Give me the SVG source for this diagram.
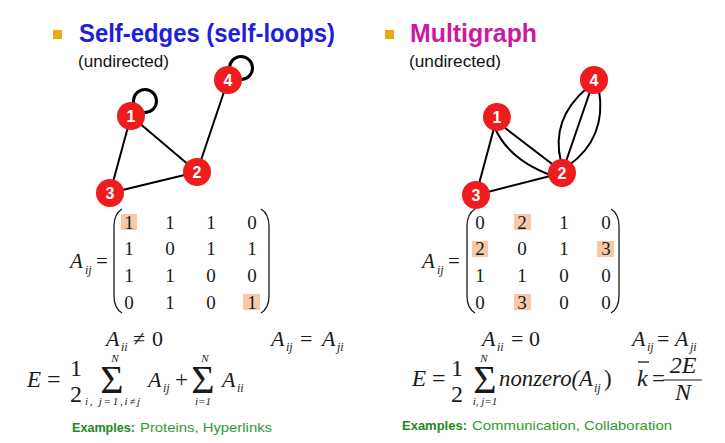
<svg xmlns="http://www.w3.org/2000/svg" width="725" height="443" viewBox="0 0 725 443">
<style>
.title{font-family:"Liberation Sans",Arial,sans-serif;font-weight:bold;font-size:25px}
.sub{font-family:"Liberation Sans",Arial,sans-serif;font-size:16px;fill:#111}
.node circle{fill:#EE1C1C}
.node text{font-family:"Liberation Sans",Arial,sans-serif;font-weight:bold;font-size:16px;fill:#fff;text-anchor:middle}
.edge{fill:none;stroke:#000;stroke-width:2}
.loop{fill:none;stroke:#000;stroke-width:3}
.m{font-family:"Liberation Serif","Times New Roman",serif;font-size:19px;fill:#1a1a1a;text-anchor:middle}
.mi{font-family:"Liberation Serif","Times New Roman",serif;font-style:italic;fill:#1a1a1a}
.mr{font-family:"Liberation Serif","Times New Roman",serif;fill:#1a1a1a}
.paren{fill:none;stroke:#1a1a1a;stroke-width:1.3}
.hl{fill:#F8C9A8}
.exb{font-family:"Liberation Sans",Arial,sans-serif;font-weight:bold;font-size:13px;fill:#1D8A1D}
.ex{font-family:"Liberation Sans",Arial,sans-serif;font-size:13px;fill:#2E9B2E}
.bullet{fill:#EDA81A}
</style>

<!-- Titles -->
<rect class="bullet" x="53" y="30" width="9" height="9"/>
<text class="title" x="79" y="42" fill="#1E1EDC" textLength="256" lengthAdjust="spacingAndGlyphs">Self-edges (self-loops)</text>
<text class="sub" x="78" y="67" textLength="91" lengthAdjust="spacingAndGlyphs">(undirected)</text>

<rect class="bullet" x="385" y="30" width="9" height="9"/>
<text class="title" x="410" y="42" fill="#CC1A9E" textLength="127" lengthAdjust="spacingAndGlyphs">Multigraph</text>
<text class="sub" x="409" y="67" textLength="92" lengthAdjust="spacingAndGlyphs">(undirected)</text>

<!-- Connectors -->
<g id="connectors">
  <line class="edge" x1="131" y1="116" x2="197" y2="172"/>
  <line class="edge" x1="131" y1="116" x2="110" y2="193"/>
  <line class="edge" x1="110" y1="193" x2="197" y2="172"/>
  <line class="edge" x1="197" y1="172" x2="228" y2="80"/>
  <circle class="loop" cx="145" cy="101" r="11.5"/>
  <circle class="loop" cx="241" cy="68" r="11.5"/>

  <line class="edge" x1="497" y1="117" x2="476" y2="195"/>
  <line class="edge" x1="476" y1="195" x2="562" y2="173"/>
  <line class="edge" x1="500" y1="124" x2="556" y2="167"/>
  <path class="edge" d="M494 126 Q508 160 553 176"/>
  <line class="edge" x1="562" y1="173" x2="594" y2="80"/>
  <path class="edge" d="M561 162 C553 130 566 106 587 88"/>
  <path class="edge" d="M568 166 C596 146 604 120 599 90"/>
</g>

<!-- Left nodes -->
<g id="L1" class="node"><circle cx="131" cy="116" r="14"/><text x="131" y="122">1</text></g>
<g id="L2" class="node"><circle cx="197" cy="172" r="14"/><text x="197" y="178">2</text></g>
<g id="L3" class="node"><circle cx="110" cy="193" r="14"/><text x="110" y="199">3</text></g>
<g id="L4" class="node"><circle cx="228" cy="80" r="14"/><text x="228" y="86">4</text></g>

<!-- Right nodes -->
<g id="R1" class="node"><circle cx="497" cy="117" r="14"/><text x="497" y="123">1</text></g>
<g id="R2" class="node"><circle cx="562" cy="173" r="14"/><text x="562" y="179">2</text></g>
<g id="R3" class="node"><circle cx="476" cy="195" r="14"/><text x="476" y="201">3</text></g>
<g id="R4" class="node"><circle cx="594" cy="80" r="14"/><text x="594" y="86">4</text></g>

<!-- Left matrix -->
<g id="left-matrix">
  <rect class="hl" x="121" y="214" width="16" height="16"/>
  <rect class="hl" x="243" y="294" width="17" height="16"/>
  <text class="mi" x="70" y="268" font-size="21">A</text>
  <text class="mi" x="85" y="274" font-size="12">ij</text>
  <text class="mr" x="96" y="268" font-size="21">=</text>
  <path class="paren" d="M122 209 Q114 214 114 226 L114 296 Q114 308 122 313"/>
  <path class="paren" d="M261 209 Q269 214 269 226 L269 296 Q269 308 261 313"/>
  <text class="m" x="129" y="229">1</text><text class="m" x="170" y="229">1</text><text class="m" x="211" y="229">1</text><text class="m" x="252" y="229">0</text>
  <text class="m" x="129" y="255">1</text><text class="m" x="170" y="255">0</text><text class="m" x="211" y="255">1</text><text class="m" x="252" y="255">1</text>
  <text class="m" x="129" y="282">1</text><text class="m" x="170" y="282">1</text><text class="m" x="211" y="282">0</text><text class="m" x="252" y="282">0</text>
  <text class="m" x="129" y="309">0</text><text class="m" x="170" y="309">1</text><text class="m" x="211" y="309">0</text><text class="m" x="252" y="309">1</text>
</g>

<!-- Right matrix -->
<g id="right-matrix">
  <rect class="hl" x="514" y="214" width="17" height="16"/>
  <rect class="hl" x="472" y="241" width="16" height="16"/>
  <rect class="hl" x="597" y="241" width="17" height="16"/>
  <rect class="hl" x="514" y="294" width="17" height="16"/>
  <text class="mi" x="422" y="268" font-size="21">A</text>
  <text class="mi" x="437" y="274" font-size="12">ij</text>
  <text class="mr" x="448" y="268" font-size="21">=</text>
  <path class="paren" d="M475 209 Q467 214 467 226 L467 296 Q467 308 475 313"/>
  <path class="paren" d="M611 209 Q619 214 619 226 L619 296 Q619 308 611 313"/>
  <text class="m" x="480" y="229">0</text><text class="m" x="522" y="229">2</text><text class="m" x="564" y="229">1</text><text class="m" x="606" y="229">0</text>
  <text class="m" x="480" y="255">2</text><text class="m" x="522" y="255">0</text><text class="m" x="564" y="255">1</text><text class="m" x="606" y="255">3</text>
  <text class="m" x="480" y="282">1</text><text class="m" x="522" y="282">1</text><text class="m" x="564" y="282">0</text><text class="m" x="606" y="282">0</text>
  <text class="m" x="480" y="309">0</text><text class="m" x="522" y="309">3</text><text class="m" x="564" y="309">0</text><text class="m" x="606" y="309">0</text>
</g>

<!-- Left formulas -->
<g id="left-formulas">
  <text class="mi" x="106" y="346" font-size="22">A</text>
  <text class="mi" x="121" y="351" font-size="12">ii</text>
  <text class="mr" x="133" y="346" font-size="22">≠</text>
  <text class="mr" x="152" y="346" font-size="22">0</text>

  <text class="mi" x="271" y="346" font-size="22">A</text>
  <text class="mi" x="286" y="351" font-size="12">ij</text>
  <text class="mr" x="300" y="346" font-size="22">=</text>
  <text class="mi" x="322" y="346" font-size="22">A</text>
  <text class="mi" x="337" y="351" font-size="12">ji</text>

  <text class="mi" x="27" y="387" font-size="23">E</text>
  <text class="mr" x="47" y="387" font-size="24">=</text>
  <text class="mr" x="76" y="376" font-size="24" text-anchor="middle">1</text>
  <text class="mr" x="76" y="402" font-size="24" text-anchor="middle">2</text>
  <text class="mi" x="115" y="362" font-size="11" text-anchor="middle">N</text>
  <text class="mr" x="112" y="393" font-size="40" text-anchor="middle">Σ</text>
  <text class="mi" x="85" y="405" font-size="11" textLength="55" lengthAdjust="spacing">i, j=1,i≠j</text>
  <text class="mi" x="148" y="387" font-size="22">A</text>
  <text class="mi" x="163" y="392" font-size="12">ij</text>
  <text class="mr" x="175" y="387" font-size="23">+</text>
  <text class="mi" x="205" y="362" font-size="11" text-anchor="middle">N</text>
  <text class="mr" x="203" y="393" font-size="40" text-anchor="middle">Σ</text>
  <text class="mi" x="203" y="405" font-size="11" text-anchor="middle">i=1</text>
  <text class="mi" x="222" y="387" font-size="22">A</text>
  <text class="mi" x="237" y="392" font-size="12">ii</text>

  <text class="exb" x="72" y="432" textLength="63" lengthAdjust="spacingAndGlyphs">Examples:</text>
  <text class="ex" x="140" y="432" textLength="132" lengthAdjust="spacingAndGlyphs">Proteins, Hyperlinks</text>
</g>

<!-- Right formulas -->
<g id="right-formulas">
  <text class="mi" x="482" y="346" font-size="22">A</text>
  <text class="mi" x="497" y="351" font-size="12">ii</text>
  <text class="mr" x="511" y="346" font-size="22">=</text>
  <text class="mr" x="529" y="346" font-size="22">0</text>

  <text class="mi" x="632" y="346" font-size="22">A</text>
  <text class="mi" x="647" y="351" font-size="12">ij</text>
  <text class="mr" x="657" y="346" font-size="22">=</text>
  <text class="mi" x="675" y="346" font-size="22">A</text>
  <text class="mi" x="690" y="351" font-size="12">ji</text>

  <text class="mi" x="412" y="386" font-size="23">E</text>
  <text class="mr" x="432" y="386" font-size="24">=</text>
  <text class="mr" x="457" y="376" font-size="24" text-anchor="middle">1</text>
  <text class="mr" x="457" y="402" font-size="24" text-anchor="middle">2</text>
  <text class="mi" x="484" y="362" font-size="11" text-anchor="middle">N</text>
  <text class="mr" x="485" y="393" font-size="40" text-anchor="middle">Σ</text>
  <text class="mi" x="485" y="405" font-size="11" text-anchor="middle">i, j=1</text>
  <text class="mi" x="499" y="386" font-size="23" textLength="94" lengthAdjust="spacingAndGlyphs">nonzero(A</text>
  <text class="mi" x="594" y="392" font-size="12">ij</text>
  <text class="mr" x="604" y="386" font-size="23">)</text>

  <text class="mi" x="637" y="386" font-size="24">k</text>
  <line x1="638" y1="362" x2="649" y2="362" stroke="#1a1a1a" stroke-width="1.3"/>
  <text class="mr" x="652" y="386" font-size="23">=</text>
  <text class="mi" x="683" y="373" font-size="24" text-anchor="middle">2E</text>
  <line x1="663" y1="380" x2="702" y2="380" stroke="#1a1a1a" stroke-width="1.2"/>
  <text class="mi" x="683" y="400" font-size="24" text-anchor="middle">N</text>

  <text class="exb" x="402" y="430" textLength="65" lengthAdjust="spacingAndGlyphs">Examples:</text>
  <text class="ex" x="472" y="430" textLength="200" lengthAdjust="spacingAndGlyphs">Communication, Collaboration</text>
</g>
</svg>
